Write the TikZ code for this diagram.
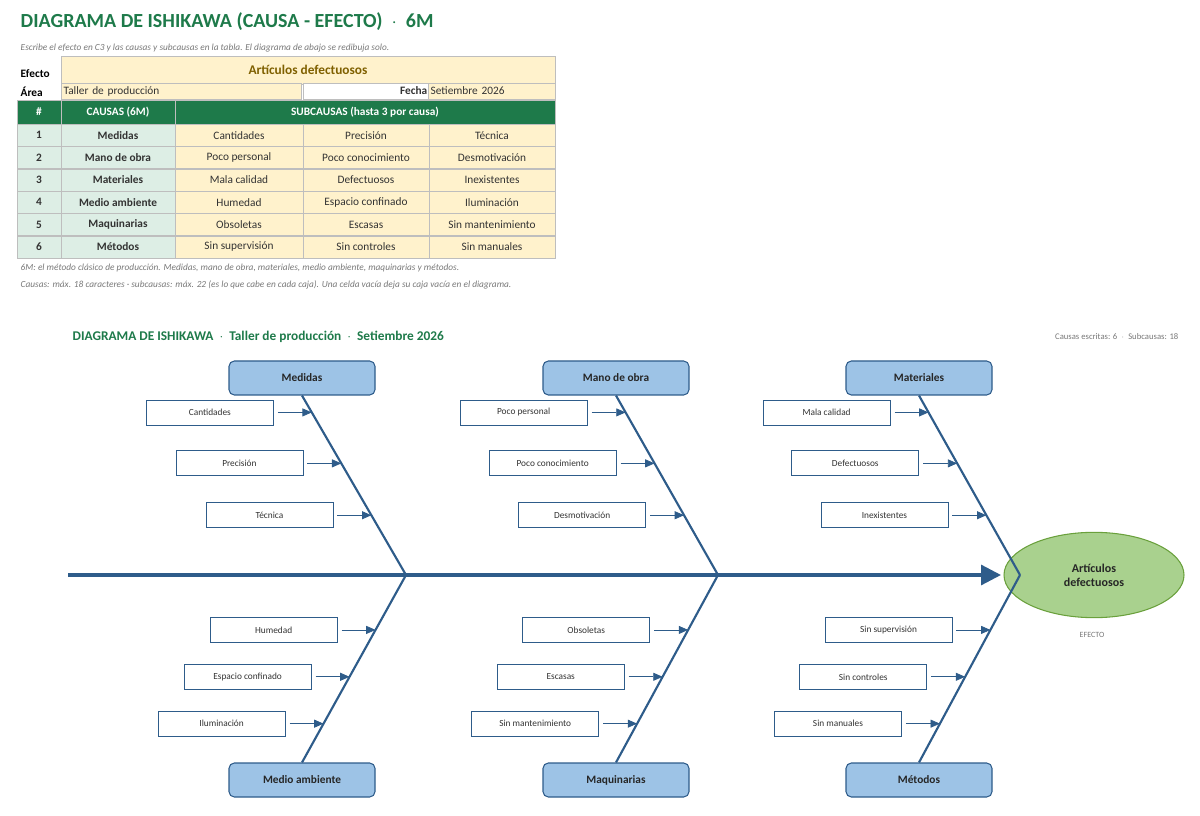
\documentclass[tikz,border=0pt]{standalone}
\usepackage{fontspec}
\setmainfont{Carlito}
\usetikzlibrary{arrows.meta, positioning, calc, shapes.geometric}
\definecolor{ishgreen}{RGB}{30,122,74}
\definecolor{celgreen}{RGB}{221,238,229}
\definecolor{celyellow}{RGB}{255,242,204}
\definecolor{gridgray}{RGB}{190,190,190}
\definecolor{bonblue}{RGB}{46,92,138}
\definecolor{caublue}{RGB}{157,195,230}
\definecolor{efffill}{RGB}{169,209,142}
\definecolor{effdraw}{RGB}{106,160,60}
\definecolor{olive}{RGB}{127,96,0}
\definecolor{notegray}{RGB}{120,120,120}

\begin{document}
\begin{tikzpicture}[
    x=0.75pt, y=-0.75pt,
    cell/.style={rectangle, draw=gridgray, inner sep=0pt, minimum height=16.5pt, font=\fontsize{8.5}{10}\selectfont, text=black!80},
    cause/.style={rectangle, rounded corners=4pt, draw=bonblue, thick, fill=caublue, minimum width=109.5pt, minimum height=25.5pt, font=\fontsize{8.5}{10}\selectfont\bfseries, text=black!85},
    sub/.style={rectangle, draw=bonblue, semithick, fill=white, minimum width=95.25pt, minimum height=18.75pt, inner sep=0pt, font=\fontsize{7}{8}\selectfont, text=black!80},
    bone/.style={draw=bonblue, line width=1.6pt},
    arrow/.style={draw=bonblue, semithick, -{Triangle[length=7pt,width=6pt]}},
    note/.style={anchor=west, font=\fontsize{7}{8}\selectfont\itshape, text=notegray}
]
\useasboundingbox (0,0) rectangle (1200,816);

% Heading
\node[anchor=west, font=\fontsize{15}{18}\selectfont\bfseries, text=ishgreen] (title) at (16,22) {DIAGRAMA DE ISHIKAWA (CAUSA - EFECTO) \ $\cdot$ \ 6M};
\node[note] (hint) at (16,48) {Escribe el efecto en C3 y las causas y subcausas en la tabla. El diagrama de abajo se redibuja solo.};

% Effect and area
\node[anchor=west, font=\fontsize{8.5}{10}\selectfont\bfseries] (lbleff) at (16,74) {Efecto};
\node[anchor=west, font=\fontsize{8.5}{10}\selectfont\bfseries] (lblarea) at (16,92) {Área};
\node[cell, fill=celyellow, minimum width=370.5pt, minimum height=21pt, font=\fontsize{10}{12}\selectfont\bfseries, text=olive] (effcell) at (308,70) {Artículos defectuosos};
\node[cell, fill=celyellow, minimum width=180pt, minimum height=12pt, text width=176pt, align=left] (areacell) at (181,91) {Taller de producción};
\node[cell, fill=white, minimum width=94.5pt, minimum height=12pt, text width=92pt, align=right] (fechalbl) at (366,91) {\bfseries Fecha};
\node[cell, fill=celyellow, minimum width=95.25pt, minimum height=12pt, text width=92pt, align=left] (fechacell) at (492,91) {Setiembre 2026};

% Table header
\node[cell, fill=ishgreen, text=white, minimum width=33pt, minimum height=18pt, font=\fontsize{8.5}{10}\selectfont\bfseries] (hnum) at (39,112) {\#};
\node[cell, fill=ishgreen, text=white, minimum width=85.5pt, minimum height=18pt, font=\fontsize{8.5}{10}\selectfont\bfseries] (hcau) at (118,112) {CAUSAS (6M)};
\node[cell, fill=ishgreen, text=white, minimum width=285pt, minimum height=18pt, font=\fontsize{8.5}{10}\selectfont\bfseries] (hsub) at (365,112) {SUBCAUSAS (hasta 3 por causa)};

% Table rows
\foreach \i/\c/\a/\b/\d in {1/Medidas/Cantidades/Precisión/Técnica,
    2/Mano de obra/Poco personal/Poco conocimiento/Desmotivación,
    3/Materiales/Mala calidad/Defectuosos/Inexistentes,
    4/Medio ambiente/Humedad/Espacio confinado/Iluminación,
    5/Maquinarias/Obsoletas/Escasas/Sin mantenimiento,
    6/Métodos/Sin supervisión/Sin controles/Sin manuales} {
  \node[cell, fill=celgreen, minimum width=33pt, font=\fontsize{8.5}{10}\selectfont\bfseries] (num\i) at (39,{113+22.3*\i}) {\i};
  \node[cell, fill=celgreen, minimum width=85.5pt, font=\fontsize{8.5}{10}\selectfont\bfseries] (cau\i) at (118,{113+22.3*\i}) {\c};
  \node[cell, fill=celyellow, minimum width=96pt] (suba\i) at (239,{113+22.3*\i}) {\a};
  \node[cell, fill=celyellow, minimum width=94.5pt] (subb\i) at (366,{113+22.3*\i}) {\b};
  \node[cell, fill=celyellow, minimum width=94.5pt] (subc\i) at (492,{113+22.3*\i}) {\d};
}

% Notes
\node[note] (note1) at (16,268) {6M: el método clásico de producción. Medidas, mano de obra, materiales, medio ambiente, maquinarias y métodos.};
\node[note] (note2) at (16,285) {Causas: máx. 18 caracteres · subcausas: máx. 22 (es lo que cabe en cada caja). Una celda vacía deja su caja vacía en el diagrama.};

% Diagram heading
\node[anchor=west, font=\fontsize{10}{12}\selectfont\bfseries, text=ishgreen] (dtitle) at (68,337) {DIAGRAMA DE ISHIKAWA \ $\cdot$ \ Taller de producción \ $\cdot$ \ Setiembre 2026};
\node[anchor=east, font=\fontsize{6.5}{8}\selectfont, text=notegray] (count) at (1183,337) {Causas escritas: 6 \ $\cdot$ \ Subcausas: 18};

% Effect and spine
\node[ellipse, draw=effdraw, thick, fill=efffill, minimum width=135pt, minimum height=64pt, align=center, font=\fontsize{9}{10.5}\selectfont\bfseries, text=black!85] (eff) at (1094,575) {Artículos\\defectuosos};
\node[font=\fontsize{6}{7}\selectfont, text=notegray] (efflbl) at (1092,635) {EFECTO};
\coordinate (tail) at (68,575);
\coordinate (tip) at (1001,575);
\draw[draw=bonblue, line width=2.4pt, -{Triangle[length=15pt,width=15pt]}] (tail) -- (tip);

% Junctions
\coordinate (j1) at (406,575);
\coordinate (j2) at (718,575);
\coordinate (j3) at (1020,575);

% Top causes
\foreach \k/\c/\x/\sa/\sb/\sc in {1/Medidas/302/Cantidades/Precisión/Técnica,
    2/Mano de obra/616/Poco personal/Poco conocimiento/Desmotivación,
    3/Materiales/919/Mala calidad/Defectuosos/Inexistentes} {
  \node[cause] (top\k) at (\x,378) {\c};
  \draw[bone] (top\k.south) -- (j\k);
  \foreach \m/\t/\s in {1/0.094/\sa, 2/0.378/\sb, 3/0.667/\sc} {
    \coordinate (tb\k\m) at ($(top\k.south)!\t!(j\k)$);
    \node[sub, anchor=east] (ts\k\m) at ([xshift=-28.5pt]tb\k\m) {\s};
    \draw[arrow] ([xshift=3pt]ts\k\m.east) -- (tb\k\m);
  }
}

% Bottom causes
\foreach \k/\c/\x/\sa/\sb/\sc in {1/Medio ambiente/302/Humedad/Espacio confinado/Iluminación,
    2/Maquinarias/616/Obsoletas/Escasas/Sin mantenimiento,
    3/Métodos/919/Sin supervisión/Sin controles/Sin manuales} {
  \node[cause] (bot\k) at (\x,780) {\c};
  \draw[bone] (j\k) -- (bot\k.north);
  \foreach \m/\t/\s in {1/0.293/\sa, 2/0.543/\sb, 3/0.793/\sc} {
    \coordinate (bb\k\m) at ($(j\k)!\t!(bot\k.north)$);
    \node[sub, anchor=east] (bs\k\m) at ([xshift=-28.5pt]bb\k\m) {\s};
    \draw[arrow] ([xshift=3pt]bs\k\m.east) -- (bb\k\m);
  }
}

\end{tikzpicture}
\end{document}
